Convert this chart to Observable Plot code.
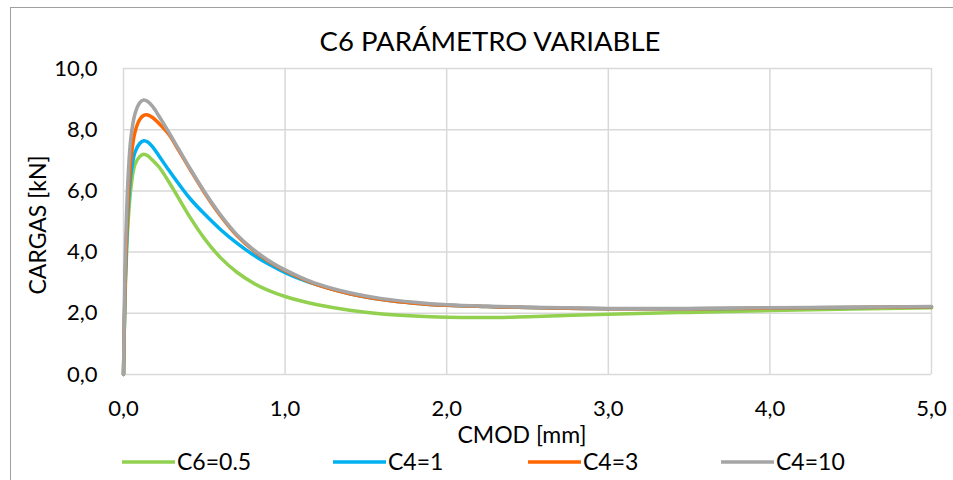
<!DOCTYPE html>
<html>
<head>
<meta charset="utf-8">
<script src="https://cdn.jsdelivr.net/npm/d3@7"></script>
<script src="https://cdn.jsdelivr.net/npm/@observablehq/plot@0.6"></script>
<style>
  html, body { margin: 0; padding: 0; background: #fff; }
  svg { display: block; }
</style>
</head>
<body>
<div id="chart"></div>
<script>
// CMOD [mm] sample positions (shared by all series)
const cmod = [0, 0.005, 0.01, 0.02, 0.03, 0.045, 0.07, 0.1, 0.125, 0.15, 0.18, 0.22, 0.28, 0.34, 0.41, 0.5, 0.6, 0.7, 0.8, 0.9, 1.0, 1.1, 1.2, 1.4, 1.6, 1.8, 2.0, 2.25, 2.5, 3.0, 3.5, 4.0, 4.5, 5.0];

// Loads [kN]
const c6_05 = [0, 1.4, 2.6, 4.1, 5.1, 6.05, 6.85, 7.12, 7.2, 7.15, 7.0, 6.78, 6.3, 5.77, 5.15, 4.45, 3.82, 3.35, 3.0, 2.74, 2.55, 2.4, 2.28, 2.1, 1.98, 1.91, 1.87, 1.86, 1.89, 1.97, 2.03, 2.09, 2.14, 2.18];
const c4_1  = [0, 1.5, 2.8, 4.4, 5.5, 6.5, 7.25, 7.55, 7.64, 7.6, 7.44, 7.14, 6.68, 6.24, 5.76, 5.25, 4.74, 4.3, 3.92, 3.6, 3.33, 3.11, 2.93, 2.64, 2.45, 2.33, 2.26, 2.22, 2.19, 2.15, 2.15, 2.17, 2.19, 2.21];
const c4_3  = [0, 1.6, 3.0, 4.7, 5.9, 7.0, 7.9, 8.33, 8.47, 8.48, 8.4, 8.2, 7.85, 7.34, 6.72, 5.95, 5.19, 4.55, 4.07, 3.69, 3.39, 3.14, 2.93, 2.64, 2.45, 2.33, 2.26, 2.22, 2.19, 2.15, 2.15, 2.17, 2.19, 2.21];
const c4_10 = [0, 2.0, 3.6, 5.4, 6.6, 7.7, 8.5, 8.88, 8.97, 8.92, 8.76, 8.44, 7.92, 7.38, 6.75, 5.98, 5.22, 4.58, 4.1, 3.72, 3.42, 3.17, 2.96, 2.67, 2.48, 2.36, 2.28, 2.23, 2.2, 2.16, 2.16, 2.18, 2.2, 2.22];

const seriesNames = ["C6=0.5", "C4=1", "C4=3", "C4=10"];
const seriesValues = [c6_05, c4_1, c4_3, c4_10];
const seriesColors = ["#92D050", "#00B0F0", "#FF6600", "#A5A5A5"];

const xTicks = [0, 1, 2, 3, 4, 5];
const yTicks = [0, 2, 4, 6, 8, 10];

const title = "C6 PARÁMETRO VARIABLE";
const xLabel = "CMOD [mm]";
const yLabel = "CARGAS [kN]";

const fmt = d => d.toFixed(1).replace(".", ",");

const rows = [];
seriesNames.forEach((name, i) => {
  cmod.forEach((x, j) => rows.push({series: name, x, y: seriesValues[i][j]}));
});

const FONT = "Lato, 'Open Sans', sans-serif";

const plot = Plot.plot({
  width: 953,
  height: 480,
  marginLeft: 123,
  marginRight: 22,
  marginTop: 68,
  marginBottom: 106,
  style: {fontFamily: FONT, fontSize: "22px", color: "#000", background: "#fff"},
  x: {domain: [0, 5]},
  y: {domain: [0, 10]},
  color: {domain: seriesNames, range: seriesColors},
  marks: [
    Plot.gridX(xTicks, {stroke: "#d9d9d9", strokeOpacity: 1, strokeWidth: 1.5}),
    Plot.gridY(yTicks, {stroke: "#d9d9d9", strokeOpacity: 1, strokeWidth: 1.5}),
    Plot.axisX({ticks: xTicks, tickFormat: fmt, tickSize: 0, tickPadding: 26, label: null, fontSize: 22}),
    Plot.axisY({ticks: yTicks, tickFormat: fmt, tickSize: 0, tickPadding: 26, label: null, fontSize: 22}),
    Plot.line(rows, {x: "x", y: "y", z: "series", stroke: "series", strokeWidth: 3.5, curve: "catmull-rom"})
  ]
});

const svg = d3.select(plot);
// outer chart border
svg.insert("rect", ":first-child")
  .attr("x", 10.5).attr("y", 7.5).attr("width", 1000).attr("height", 1000)
  .attr("fill", "none").attr("stroke", "#a0a0a0").attr("stroke-width", 1);

svg.append("text").text(title)
  .attr("x", 490).attr("y", 51).attr("text-anchor", "middle")
  .attr("font-family", FONT).attr("font-size", 27.5).attr("fill", "#000");

svg.append("text").text(xLabel)
  .attr("x", 522).attr("y", 443).attr("text-anchor", "middle")
  .attr("font-family", FONT).attr("font-size", 23).attr("fill", "#000");

svg.append("text").text(yLabel)
  .attr("transform", "translate(46,225) rotate(-90)").attr("text-anchor", "middle")
  .attr("font-family", FONT).attr("font-size", 23).attr("fill", "#000");

const legendX = [122, 333, 528, 721];
const lg = svg.append("g");
seriesNames.forEach((name, i) => {
  lg.append("line").attr("x1", legendX[i]).attr("x2", legendX[i] + 53)
    .attr("y1", 462).attr("y2", 462)
    .attr("stroke", seriesColors[i]).attr("stroke-width", 3.5);
  lg.append("text").text(name)
    .attr("x", legendX[i] + 55).attr("y", 470).attr("text-anchor", "start")
    .attr("font-family", FONT).attr("font-size", 23).attr("fill", "#000");
});

document.getElementById("chart").appendChild(plot);
</script>
</body>
</html>
